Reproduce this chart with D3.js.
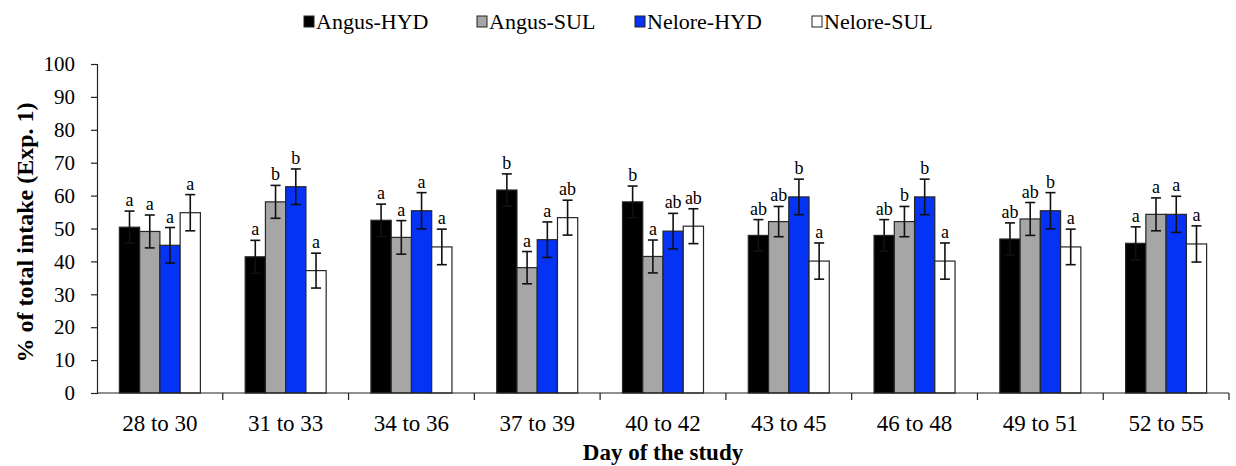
<!DOCTYPE html>
<html><head><meta charset="utf-8">
<script src="https://cdn.jsdelivr.net/npm/d3@7"></script>
<style>body{margin:0;background:#fff}svg{display:block}svg text{font-family:"Liberation Serif","Times New Roman",serif !important}</style>
</head><body><svg id="c" width="1236" height="466"></svg>
<script>
const categories = ["28 to 30","31 to 33","34 to 36","37 to 39","40 to 42","43 to 45","46 to 48","49 to 51","52 to 55"];
const seriesNames = ["Angus-HYD","Angus-SUL","Nelore-HYD","Nelore-SUL"];
const seriesColors = ["#000000","#a6a6a6","#0433f5","#ffffff"];
const angusHYD  = [50.4, 41.4, 52.5, 61.7, 58.1, 47.9, 47.9, 46.8, 45.5];
const angusSUL  = [49.1, 58.1, 47.3, 38.1, 41.5, 52.1, 52.1, 52.9, 54.3];
const neloreHYD = [44.9, 62.7, 55.4, 46.6, 49.2, 59.6, 59.6, 55.4, 54.3];
const neloreSUL = [54.8, 37.2, 44.4, 53.3, 50.7, 40.1, 40.1, 44.4, 45.3];
const errAngusHYD  = [4.9, 5.0, 4.9, 4.9, 4.8, 4.8, 4.8, 4.9, 5.0];
const errAngusSUL  = [5.0, 5.0, 5.1, 4.9, 5.0, 4.6, 4.6, 5.0, 5.0];
const errNeloreHYD = [5.4, 5.4, 5.5, 5.4, 5.4, 5.4, 5.4, 5.5, 5.5];
const errNeloreSUL = [5.5, 5.3, 5.4, 5.3, 5.3, 5.5, 5.5, 5.4, 5.5];
const lettersAngusHYD  = ["a","a","a","b","b","ab","ab","ab","a"];
const lettersAngusSUL  = ["a","b","a","a","a","ab","b","ab","a"];
const lettersNeloreHYD = ["a","b","a","a","ab","b","b","b","a"];
const lettersNeloreSUL = ["a","a","a","ab","ab","a","a","a","a"];
const yTicks = [0,10,20,30,40,50,60,70,80,90,100];

const values = [angusHYD, angusSUL, neloreHYD, neloreSUL];
const errs = [errAngusHYD, errAngusSUL, errNeloreHYD, errNeloreSUL];
const letters = [lettersAngusHYD, lettersAngusSUL, lettersNeloreHYD, lettersNeloreSUL];

const svg = d3.select("#c");
const L = 97, R = 1229, T = 64, B = 393;
const x0 = d3.scaleBand().domain(categories).range([L, R]).padding(0);
const groupW = 81;
const x1 = d3.scaleBand().domain(seriesNames).range([0, groupW]).padding(0);
const y = d3.scaleLinear().domain([0,100]).range([B, T]);

const data = [];
categories.forEach((c, i) => seriesNames.forEach((s, j) => data.push({c, s, j, v: values[j][i], e: errs[j][i], l: letters[j][i]})));
const gx = d => x0(d.c) + (x0.bandwidth() - groupW) / 2 + x1(d.s);

svg.append("g").selectAll("rect").data(data).join("rect")
  .attr("x", gx).attr("y", d => y(d.v))
  .attr("width", x1.bandwidth()).attr("height", d => y(0) - y(d.v))
  .attr("fill", d => seriesColors[d.j]).attr("stroke", "#262626").attr("stroke-width", 1.2);

const eg = svg.append("g").attr("stroke", "#111").attr("stroke-width", 1.6);
data.forEach(d => {
  const cx = gx(d) + x1.bandwidth() / 2;
  eg.append("line").attr("x1", cx).attr("x2", cx).attr("y1", y(d.v + d.e)).attr("y2", y(d.v - d.e));
  eg.append("line").attr("x1", cx - 5).attr("x2", cx + 5).attr("y1", y(d.v + d.e)).attr("y2", y(d.v + d.e));
  eg.append("line").attr("x1", cx - 5).attr("x2", cx + 5).attr("y1", y(d.v - d.e)).attr("y2", y(d.v - d.e));
});

svg.append("g").selectAll("text").data(data).join("text")
  .attr("x", d => gx(d) + x1.bandwidth() / 2).attr("y", d => y(d.v + d.e) - 5)
  .attr("text-anchor", "middle").style("font-size", "18px").attr("fill", "#000").text(d => d.l);

const yAxis = svg.append("g").attr("transform", `translate(${L},0)`)
  .call(d3.axisLeft(y).tickValues(yTicks).tickSize(6).tickPadding(16));
yAxis.select(".domain").attr("stroke", "#222").attr("stroke-width", 1.2);
yAxis.selectAll(".tick line").attr("stroke", "#222").attr("stroke-width", 1.2);
yAxis.selectAll("text").style("font-size", "21px").attr("fill", "#000");

const xAxis = svg.append("g").attr("transform", `translate(0,${B})`);
xAxis.append("line").attr("x1", L).attr("x2", R).attr("y1", 0).attr("y2", 0).attr("stroke", "#222").attr("stroke-width", 1.2);
const bounds = categories.map(c => x0(c) + x0.bandwidth());
xAxis.selectAll("line.tk").data(bounds).join("line").attr("class", "tk")
  .attr("x1", d => d).attr("x2", d => d).attr("y1", 0).attr("y2", 7).attr("stroke", "#222").attr("stroke-width", 1.2);
xAxis.selectAll("text").data(categories).join("text")
  .attr("x", d => x0(d) + x0.bandwidth() / 2).attr("y", 38)
  .attr("text-anchor", "middle").style("font-size", "23px").attr("fill", "#000").text(d => d);

svg.append("text").attr("x", (L + R) / 2).attr("y", 460).attr("text-anchor", "middle")
  .style("font-size", "23px").attr("font-weight", "bold").text("Day of the study");
svg.append("text").attr("transform", `translate(33,${(T + B) / 2 + 4}) rotate(-90)`).attr("text-anchor", "middle")
  .style("font-size", "24px").attr("font-weight", "bold").text("% of total intake (Exp. 1)");

const legX = [304, 477, 635, 812];
const lg = svg.append("g");
seriesNames.forEach((s, j) => {
  lg.append("rect").attr("x", legX[j]).attr("y", 16).attr("width", 10).attr("height", 11)
    .attr("fill", seriesColors[j]).attr("stroke", "#222").attr("stroke-width", 1);
  lg.append("text").attr("x", legX[j] + 12).attr("y", 29).style("font-size", "22px").attr("fill", "#000").text(s);
});
</script></body></html>
